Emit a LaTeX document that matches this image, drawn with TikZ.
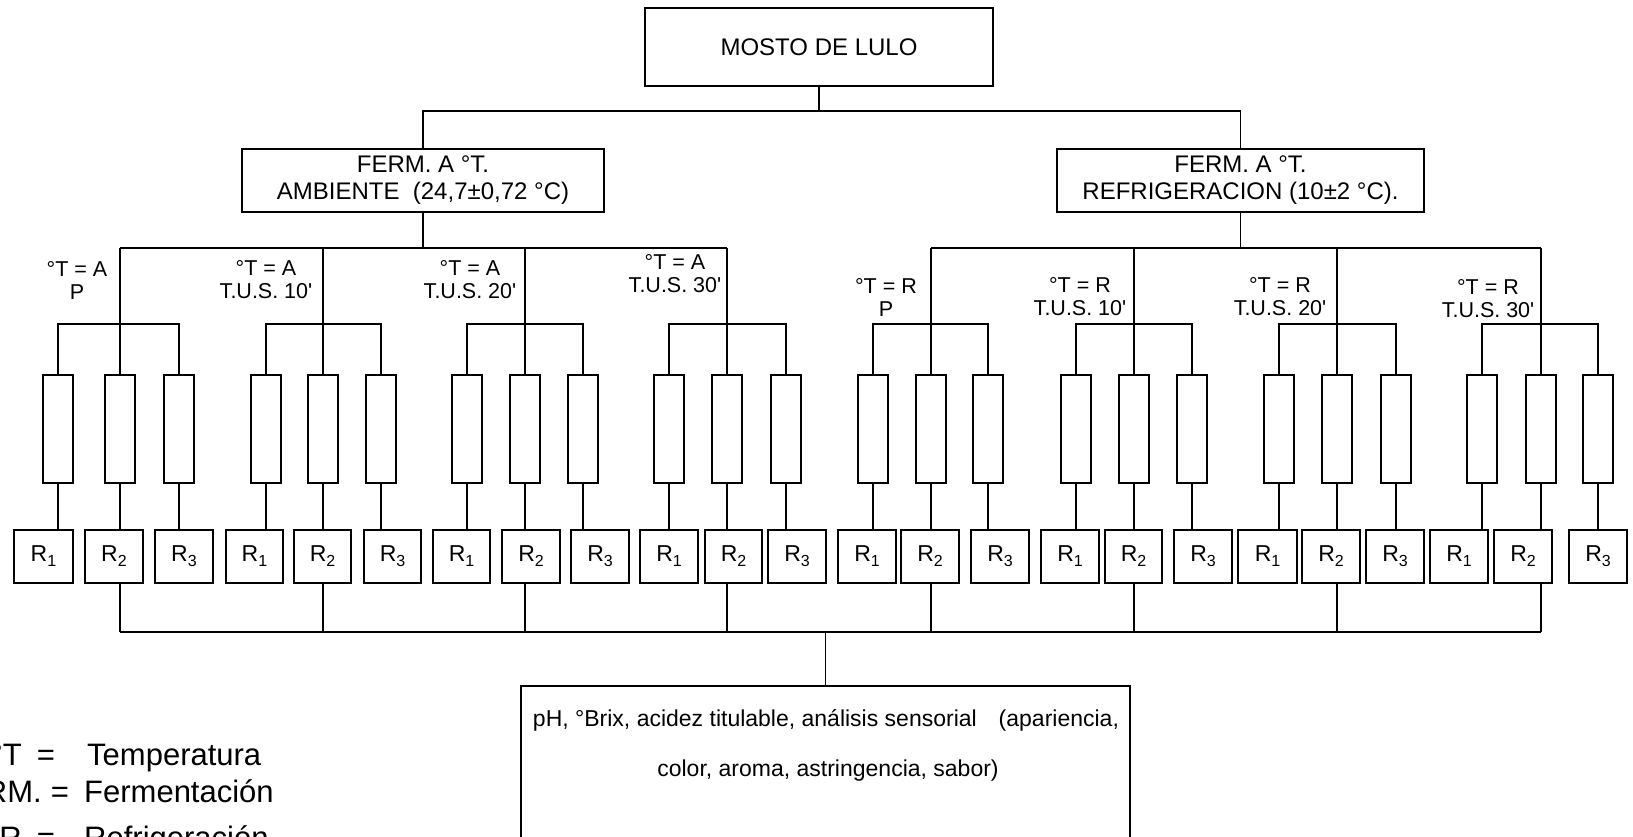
\documentclass[tikz,border=0pt]{standalone}
\usepackage{fontspec}
\setmainfont{Liberation Sans}
\newcommand{\setfs}[2]{\fontsize{#1}{#2}\selectfont}
\newcommand{\rtxt}[1]{R\raisebox{-5pt}{\setfs{16}{16}#1}}
\begin{document}
\begin{tikzpicture}[x=1pt,y=-1pt,
  box/.style={draw,line width=2.2pt,inner sep=0pt},
  conn/.style={line width=1.6pt},
  lbl/.style={font=\setfs{21.5}{23},align=center,inner sep=0pt},
  head/.style={box,font=\setfs{24}{27},align=center},
  rbox/.style={box,font=\setfs{23}{24}},
  leg/.style={font=\setfs{31}{34},inner sep=0pt}]
\clip (0,0) rectangle (1633,837);
\fill[white] (0,0) rectangle (1633,837);

% top level
\node[head, minimum width=348, minimum height=78] (mosto) at (819,47) {MOSTO DE LULO};
\node[head, minimum width=362, minimum height=63] (fa) at (423,180.5) {FERM. A °T.\\AMBIENTE\ \ (24,7±0,72 °C)};
\node[head, minimum width=367, minimum height=63] (fr) at (1240.5,180.5) {FERM. A °T.\\REFRIGERACION (10±2 °C).};

\coordinate (j0) at (819,111);
\coordinate (hA) at (0,248);
\coordinate (gl) at (0,324);
\coordinate (bot) at (0,632);

\draw[conn] (mosto.south) -- (mosto.south |- j0);
\draw[conn] (fa.north) -- (fa.north |- j0) -- (fr.north |- j0) -- (fr.north);
\draw[conn] (fa.south) -- (fa.south |- hA);
\draw[conn] (fr.south) -- (fr.south |- hA);

% groups
\foreach \g/\ca/\cc/\pa/\pb/\qa/\qb/\ra/\rb [count=\i] in {
  120/58/179/14/73/85/143/155/213,
  323/266/381/226/283/294/351/364/421,
  525/467/583/433/490/502/560/571/629,
  727/669/786/640/698/705/762/768/826,
  931/873/988/838/896/901/959/971/1029,
  1134/1076/1192/1041/1099/1105/1162/1174/1232,
  1337/1279/1396/1238/1297/1302/1360/1366/1424,
  1541/1482/1598/1430/1488/1494/1552/1569/1627}{
  \node[box, minimum width=30, minimum height=108] (ta\i) at (\ca,429) {};
  \node[box, minimum width=30, minimum height=108] (tb\i) at (\g,429) {};
  \node[box, minimum width=30, minimum height=108] (tc\i) at (\cc,429) {};
  \node[rbox, minimum width={\pb-\pa}, minimum height=53] (Ra\i) at ({(\pa+\pb)/2},556.5) {\rtxt{1}};
  \node[rbox, minimum width={\qb-\qa}, minimum height=53] (Rb\i) at ({(\qa+\qb)/2},556.5) {\rtxt{2}};
  \node[rbox, minimum width={\rb-\ra}, minimum height=53] (Rc\i) at ({(\ra+\rb)/2},556.5) {\rtxt{3}};
  \draw[conn] (ta\i.north) -- (ta\i.north |- gl) -- (tc\i.north |- gl) -- (tc\i.north);
  \draw[conn] (tb\i.north |- hA) -- (tb\i.north);
  \draw[conn] (ta\i.south) -- (ta\i.south |- Ra\i.north);
  \draw[conn] (tb\i.south) -- (tb\i.south |- Rb\i.north);
  \draw[conn] (tc\i.south) -- (tc\i.south |- Rc\i.north);
  \draw[conn] (tb\i.south |- Rb\i.south) -- (tb\i.south |- bot);
}
\draw[conn] (tb1.north |- hA) -- (tb4.north |- hA);
\draw[conn] (tb5.north |- hA) -- (tb8.north |- hA);
\draw[conn] (tb1.south |- bot) -- (tb8.south |- bot);

% labels
\node[lbl] (la1) at (77,280) {°T = A\\P};
\node[lbl] (la2) at (266,280) {°T = A\\T.U.S. 10\textquotesingle};
\node[lbl] (la3) at (470,280) {°T = A\\T.U.S. 20\textquotesingle};
\node[lbl] (la4) at (675,274) {°T = A\\T.U.S. 30\textquotesingle};
\node[lbl] (lr1) at (886,297) {°T = R\\P};
\node[lbl] (lr2) at (1080,297) {°T = R\\T.U.S. 10\textquotesingle};
\node[lbl] (lr3) at (1280,297) {°T = R\\T.U.S. 20\textquotesingle};
\node[lbl] (lr4) at (1488,299) {°T = R\\T.U.S. 30\textquotesingle};

% result box
\node[box, anchor=north, minimum width=609, minimum height=250] (res) at (825.5,685) {};
\draw[conn] (res.north) -- (res.north |- bot);
\node[font=\setfs{23}{24},inner sep=0pt] (rt1) at (826,720) {pH, °Brix, acidez titulable, análisis sensorial\hspace{22pt}(apariencia,};
\node[font=\setfs{23}{24},inner sep=0pt] (rt2) at (828,771) {color, aroma, astringencia, sabor)};

% legend
\node[leg, anchor=base east] (k1) at (22,765) {°T};
\node[leg, anchor=base] (e1) at (46,765) {=};
\node[leg, anchor=base west] (w1) at (87,765) {Temperatura};
\node[leg, anchor=base east] (k2) at (42,802) {FERM.};
\node[leg, anchor=base] (e2) at (60,802) {=};
\node[leg, anchor=base west] (w2) at (84,802) {Fermentación};
\node[leg, anchor=base east] (k3) at (22,848) {R};
\node[leg, anchor=base] (e3) at (46,848) {=};
\node[leg, anchor=base west] (w3) at (84,848) {Refrigeración};
\end{tikzpicture}
\end{document}
